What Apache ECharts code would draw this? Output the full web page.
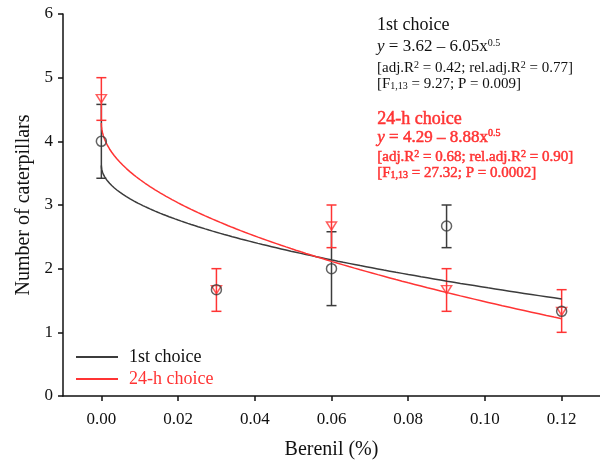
<!DOCTYPE html>
<html>
<head>
<meta charset="utf-8">
<script src="https://cdn.jsdelivr.net/npm/echarts@6/dist/echarts.min.js"></script>
<style>
html, body { margin: 0; padding: 0; background: #fff; }
#main { width: 600px; height: 465px; }
</style>
</head>
<body>
<div id="main"></div>
<script>
// Berenil dose (%) and mean number of caterpillars, with error bar ends
var doses = [0, 0.03, 0.06, 0.09, 0.12];
var firstMean = [4.0, 1.67, 2.0, 2.67, 1.33];
var firstLow = [3.42, null, 1.42, 2.33, null];
var firstHigh = [4.58, null, 2.58, 3.0, null];
var dayMean = [4.67, 1.67, 2.67, 1.67, 1.33];
var dayLow = [4.33, 1.33, 2.33, 1.33, 1.0];
var dayHigh = [5.0, 2.0, 3.0, 2.0, 1.67];

// fitted curves y = a - b * x^0.5 (coefficients printed on the chart)
var firstFit = [3.62, 6.05];
var dayFit = [4.29, 8.88];

var xTicks = [0, 0.02, 0.04, 0.06, 0.08, 0.10, 0.12];

var BLACK = '#3c3c3c';
var RED = '#ff3434';
var serif = 'Liberation Serif';

function fitLine(coef) {
  var pts = [];
  var n = 120;
  for (var i = 0; i <= n; i++) {
    var x = 0.12 * Math.pow(i / n, 2);
    pts.push([x, coef[0] - coef[1] * Math.sqrt(x)]);
  }
  return pts;
}

function zip(xs, ys) {
  return xs.map(function (x, i) { return [x, ys[i]]; });
}

function errData(lo, hi) {
  var out = [];
  doses.forEach(function (x, i) {
    if (lo[i] != null) out.push([x, lo[i], hi[i]]);
  });
  return out;
}

function errRender(color) {
  return function (params, api) {
    var top = api.coord([api.value(0), api.value(2)]);
    var bot = api.coord([api.value(0), api.value(1)]);
    var w = 5;
    var st = { stroke: color, lineWidth: 1.5 };
    return {
      type: 'group',
      children: [
        { type: 'line', shape: { x1: top[0], y1: top[1], x2: bot[0], y2: bot[1] }, style: st },
        { type: 'line', shape: { x1: top[0] - w, y1: top[1], x2: top[0] + w, y2: top[1] }, style: st },
        { type: 'line', shape: { x1: bot[0] - w, y1: bot[1], x2: bot[0] + w, y2: bot[1] }, style: st }
      ]
    };
  };
}

function rich(color, size, heavy) {
  var b = heavy ? { stroke: color, lineWidth: 0.5 } : {};
  function tok(o) { return Object.assign({ fontFamily: serif, fill: color }, b, o); }
  return {
    i: tok({ fontStyle: 'italic', fontSize: size }),
    sup: tok({ fontSize: 10, verticalAlign: 'top' }),
    sub: tok({ fontSize: 10, verticalAlign: 'bottom' })
  };
}

function note(y, text, color, size, heavy) {
  var style = {
    text: text,
    fill: color,
    fontFamily: serif,
    fontSize: size,
    rich: rich(color, size, heavy)
  };
  if (heavy) {
    style.stroke = color;
    style.lineWidth = 0.5;
  }
  return { type: 'text', left: 377, top: y - size / 2, z: 10, style: style };
}

var chart = echarts.init(document.getElementById('main'));

var option = {
  backgroundColor: '#ffffff',
  animation: false,
  grid: { left: 63, right: 0, top: 14, bottom: 63 },
  textStyle: { fontFamily: serif },
  legend: {
    orient: 'vertical',
    left: 75,
    top: 347,
    padding: 0,
    itemWidth: 42,
    itemHeight: 14,
    itemGap: 2,
    itemStyle: { opacity: 0 },
    textStyle: { fontFamily: serif, fontSize: 18, lineHeight: 20, padding: [0, 0, 0, 6] },
    data: [
      { name: '1st choice', textStyle: { color: '#111' } },
      { name: '24-h choice', textStyle: { color: RED } }
    ]
  },
  xAxis: {
    type: 'value',
    min: -0.01,
    max: 0.13,
    name: 'Berenil (%)',
    nameLocation: 'middle',
    nameGap: 44,
    nameTextStyle: { fontFamily: serif, fontSize: 20, color: '#111' },
    splitLine: { show: false },
    axisLine: { onZero: false, lineStyle: { color: '#111', width: 1.5 } },
    axisTick: { length: 5, customValues: xTicks, lineStyle: { color: '#111', width: 1.5 } },
    axisLabel: {
      customValues: xTicks,
      margin: 15,
      fontFamily: serif,
      fontSize: 17,
      color: '#111',
      formatter: function (v) { return v.toFixed(2); }
    }
  },
  yAxis: {
    type: 'value',
    min: 0,
    max: 6,
    interval: 1,
    name: 'Number of caterpillars',
    nameLocation: 'middle',
    nameGap: 29,
    nameTextStyle: { fontFamily: serif, fontSize: 20, color: '#111' },
    splitLine: { show: false },
    axisLine: { show: true, onZero: false, lineStyle: { color: '#111', width: 1.5 } },
    axisTick: { show: true, length: 5, lineStyle: { color: '#111', width: 1.5 } },
    axisLabel: { margin: 10, fontFamily: serif, fontSize: 17, color: '#111' }
  },
  graphic: [
    note(25.5, '1st choice', '#111', 18, false),
    note(47, '{i|y} = 3.62 – 6.05x{sup|0.5}', '#111', 17, false),
    note(68, '[adj.R{sup|2} = 0.42; rel.adj.R{sup|2} = 0.77]', '#111', 15, false),
    note(84, '[F{sub|1,13} = 9.27; P = 0.009]', '#111', 15, false),
    note(119, '24-h choice', RED, 18, true),
    note(137, '{i|y} = 4.29 – 8.88x{sup|0.5}', RED, 17, true),
    note(157, '[adj.R{sup|2} = 0.68; rel.adj.R{sup|2} = 0.90]', RED, 15, true),
    note(173, '[F{sub|1,13} = 27.32; P = 0.0002]', RED, 15, true)
  ],
  series: [
    {
      name: '1st choice',
      type: 'line',
      data: fitLine(firstFit),
      showSymbol: false,
      symbol: 'none',
      lineStyle: { color: BLACK, width: 1.5 },
      itemStyle: { color: BLACK },
      z: 3
    },
    {
      name: '24-h choice',
      type: 'line',
      data: fitLine(dayFit),
      showSymbol: false,
      symbol: 'none',
      lineStyle: { color: RED, width: 1.5 },
      itemStyle: { color: RED },
      z: 3
    },
    {
      name: 'err1',
      type: 'custom',
      renderItem: errRender(BLACK),
      data: errData(firstLow, firstHigh),
      encode: { x: 0, y: [1, 2] },
      z: 2
    },
    {
      name: 'err2',
      type: 'custom',
      renderItem: errRender(RED),
      data: errData(dayLow, dayHigh),
      encode: { x: 0, y: [1, 2] },
      z: 2
    },
    {
      name: 'pts2',
      type: 'scatter',
      data: zip(doses, dayMean),
      symbol: 'triangle',
      symbolRotate: 180,
      symbolSize: [10, 8],
      itemStyle: { color: 'rgba(255,255,255,0)', borderColor: RED, borderWidth: 1.5 },
      z: 4
    },
    {
      name: 'pts1',
      type: 'scatter',
      data: zip(doses, firstMean),
      symbol: 'circle',
      symbolSize: 10,
      itemStyle: { color: 'rgba(255,255,255,0)', borderColor: BLACK, borderWidth: 1.5 },
      z: 5
    }
  ]
};

chart.setOption(option);
</script>
</body>
</html>
